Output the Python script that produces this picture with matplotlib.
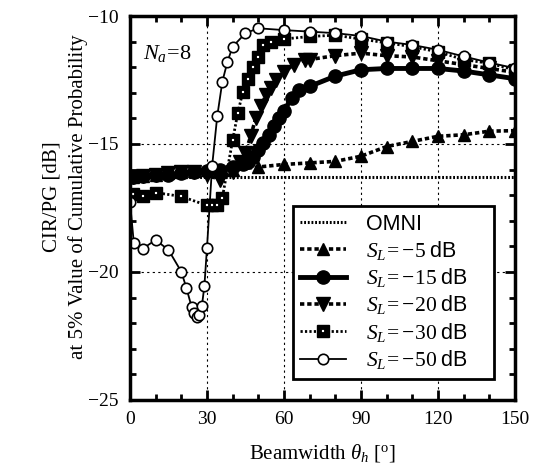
import matplotlib
matplotlib.use("Agg")
import matplotlib.pyplot as plt
from matplotlib.legend_handler import HandlerTuple
from matplotlib.ticker import MultipleLocator

plt.rcParams['font.family'] = ['Liberation Serif', 'DejaVu Serif']
plt.rcParams['mathtext.fontset'] = 'custom'
plt.rcParams['mathtext.rm'] = 'Liberation Serif'
plt.rcParams['mathtext.it'] = 'Liberation Serif:italic'
plt.rcParams['mathtext.sf'] = 'Liberation Sans'

# ---- data ----
omni_level = -16.3

x_m5 = [1, 5, 10, 15, 20, 25, 30, 35, 40, 50, 60, 70, 80, 90, 100, 110, 120, 130, 140, 150]
y_m5 = [-16.3, -16.25, -16.2, -16.15, -16.1, -16.05, -16.0, -16.0, -16.0, -15.9, -15.8,
        -15.74, -15.68, -15.48, -15.1, -14.9, -14.7, -14.64, -14.5, -14.48]

x_m15 = [1, 5, 10, 15, 20, 25, 30, 35, 40, 44, 46, 48, 50, 52, 54, 56, 58, 60, 63, 66,
         70, 80, 90, 100, 110, 120, 130, 140, 150]
y_m15 = [-16.3, -16.25, -16.2, -16.2, -16.15, -16.1, -16.05, -16.0, -15.9, -15.8, -15.7,
         -15.5, -15.25, -14.95, -14.65, -14.3, -14.0, -13.7, -13.2, -12.9,
         -12.75, -12.35, -12.1, -12.05, -12.05, -12.05, -12.15, -12.3, -12.45]

x_m20 = [1, 5, 10, 15, 20, 25, 30, 35, 40, 43, 45, 47, 49, 51, 53, 55, 57, 60, 64, 68,
         70, 80, 90, 100, 110, 120, 130, 140, 150]
y_m20 = [-16.3, -16.25, -16.2, -16.15, -16.1, -16.1, -16.2, -16.4, -16.1, -15.7, -15.35,
         -14.7, -14.0, -13.5, -13.1, -12.8, -12.5, -12.17, -11.9, -11.72,
         -11.7, -11.55, -11.45, -11.55, -11.6, -11.75, -11.9, -12.05, -12.2]

x_m30 = [1, 5, 10, 20, 30, 32, 34, 36, 40, 42, 44, 46, 48, 50, 52, 55, 60, 70, 80, 90,
         100, 110, 120, 130, 140, 150]
y_m30 = [-16.97, -17.05, -16.9, -17.05, -17.4, -17.4, -17.4, -17.1, -14.85, -13.8, -12.95,
         -12.45, -12.0, -11.6, -11.15, -11.0, -10.9, -10.8, -10.75, -10.9,
         -11.05, -11.2, -11.4, -11.7, -11.85, -12.1]

x_m50 = [0, 1.5, 5, 10, 15, 20, 22, 24, 25, 26, 27, 28, 29, 30, 32, 34, 36, 38, 40, 45,
         50, 60, 70, 80, 90, 100, 110, 120, 130, 140, 150]
y_m50 = [-17.25, -18.86, -19.09, -18.75, -19.14, -19.99, -20.63, -21.36, -21.6, -21.75,
         -21.7, -21.35, -20.55, -19.07, -15.87, -13.92, -12.56, -11.78, -11.2, -10.67,
         -10.48, -10.55, -10.61, -10.67, -10.78, -11.0, -11.13, -11.32, -11.58, -11.82, -12.04]

pad_sp = '\u00a0\u00a0\u00a0\u00a0'
labels = ['OMNI' + pad_sp,
          r'$S_L\!=\!-\!5\;\mathsf{dB}$' + pad_sp,
          r'$S_L\!=\!-\!15\;\mathsf{dB}$' + pad_sp,
          r'$S_L\!=\!-\!20\;\mathsf{dB}$' + pad_sp,
          r'$S_L\!=\!-\!30\;\mathsf{dB}$' + pad_sp,
          r'$S_L\!=\!-\!50\;\mathsf{dB}$' + pad_sp]

fig = plt.figure(figsize=(5.37, 4.71), dpi=100)
ax = fig.add_axes([0.242, 0.151, 0.717, 0.815])

dash = (0, (1.2, 0.8))
h_omni, = ax.plot([0, 150], [omni_level, omni_level], color='black', lw=2.2,
                  linestyle=(0, (0.6, 0.6)))
h5, = ax.plot(x_m5, y_m5, color='black', lw=2.6, linestyle=dash, marker='^', ms=9,
              mfc='black', mec='black')
h15, = ax.plot(x_m15, y_m15, color='black', lw=3.5, linestyle='-', marker='o', ms=9.5,
               mfc='black', mec='black')
h20, = ax.plot(x_m20, y_m20, color='black', lw=2.6, linestyle=dash, marker='v', ms=9.5,
               mfc='black', mec='black')
h30, = ax.plot(x_m30, y_m30, color='black', lw=2.0, linestyle=(0, (0.8, 0.8)), marker='s',
               ms=8.5, mfc='black', mec='black')
h30b, = ax.plot(x_m30, y_m30, linestyle='none', marker='s', ms=2.0, mfc='white', mec='white',
                mew=0.1)
h50, = ax.plot(x_m50, y_m50, color='black', lw=1.3, linestyle='-', marker='o', ms=7.5,
               mfc='white', mec='black', mew=1.2)

ax.set_xlim(0, 150)
ax.set_ylim(-25, -10)
ax.xaxis.set_major_locator(MultipleLocator(30))
ax.xaxis.set_minor_locator(MultipleLocator(10))
ax.yaxis.set_major_locator(MultipleLocator(5))
ax.yaxis.set_minor_locator(MultipleLocator(1))
ax.tick_params(which='both', direction='in', top=True, right=True, width=2.0,
               labelsize=14, pad=8)
ax.tick_params(which='major', length=7)
ax.tick_params(which='minor', length=4.5)
ax.set_yticks([-25, -20, -15, -10])
ax.set_yticklabels(['\u221225', '\u221220', '\u221215', '\u221210'])
for s in ax.spines.values():
    s.set_linewidth(2.5)
ax.grid(True, which='major', color='black', linestyle=(0, (2, 3)), lw=0.8)

ax.set_xlabel(r'Beamwidth $\theta_h$ [$^{\mathrm{o}}$]', fontsize=15, labelpad=10)
ax.set_ylabel('CIR/PG [dB]\nat 5% Value of Cumulative Probability', fontsize=15,
              linespacing=1.4)
ax.yaxis.set_label_coords(-0.11, 0.53)

ax.text(5, -11.45, r'$N_a\!=\!8$', fontsize=16, ha='left', va='center')

leg = ax.legend([h_omni, h5, h15, h20, (h30, h30b), h50], labels,
                handler_map={tuple: HandlerTuple(ndivide=1, pad=0)},
                loc='upper left', bbox_to_anchor=(0.423, 0.505), borderaxespad=0,
                fancybox=False, framealpha=1, edgecolor='black',
                prop={'family': 'Liberation Sans', 'size': 15.5},
                handlelength=2.1, handletextpad=0.95, labelspacing=0.2,
                borderpad=0.35)
leg.get_frame().set_linewidth(2.0)

fig.savefig('out.png', dpi=100)
